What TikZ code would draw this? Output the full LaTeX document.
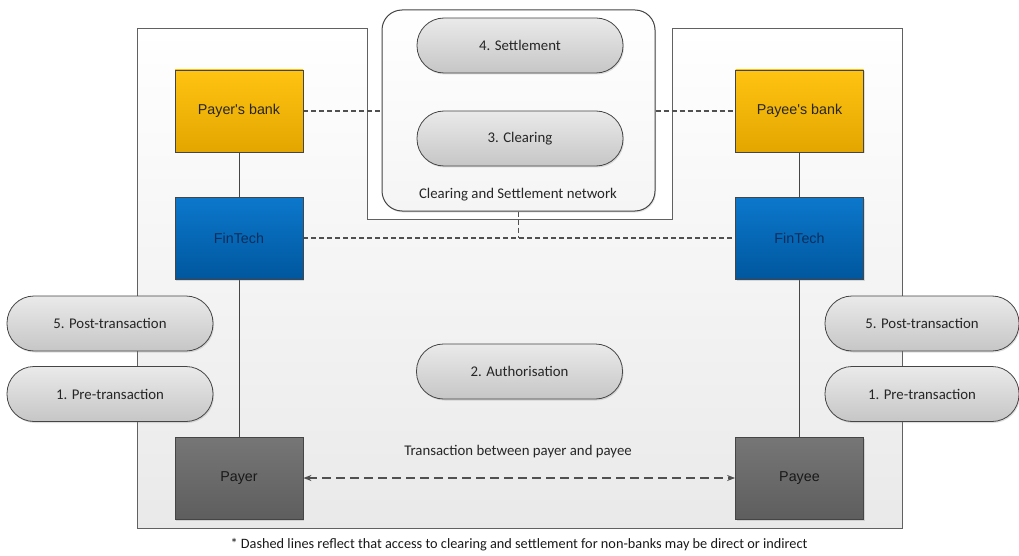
\documentclass[tikz,border=0pt]{standalone}
\usepackage{fontspec}
\setmainfont{Carlito}
\newfontfamily\boxfont{Liberation Sans}
\usetikzlibrary{shadows,arrows.meta,backgrounds}
\definecolor{edgec}{HTML}{454545}
\definecolor{panelfill}{HTML}{F5F5F5}
\definecolor{ybtop}{HTML}{FFC312}
\definecolor{ybbot}{HTML}{E3A600}
\definecolor{bltop}{HTML}{0C78CC}
\definecolor{blbot}{HTML}{00579E}
\definecolor{bltext}{HTML}{0A2E5C}
\definecolor{grtop}{HTML}{767676}
\definecolor{grbot}{HTML}{5E5E5E}
\definecolor{pilltop}{HTML}{EAEAEA}
\definecolor{pillbot}{HTML}{C6C6C6}
\definecolor{dashc}{HTML}{505050}
\begin{document}
\begin{tikzpicture}[x=1pt,y=-1pt,
  pill/.style={rectangle, rounded corners=27pt, draw=edgec, line width=0.8pt,
    top color=pilltop, bottom color=pillbot, minimum height=55pt, minimum width=206pt,
    font=\fontsize{14.8}{17}\selectfont, text=black!85,
    drop shadow={opacity=0.25, shadow xshift=1pt, shadow yshift=-1.5pt}},
  actor/.style={rectangle, draw=edgec, line width=0.8pt, minimum width=128pt, minimum height=82pt,
    font=\boxfont\fontsize{14.3}{16}\selectfont,
    drop shadow={opacity=0.25, shadow xshift=1pt, shadow yshift=-1.5pt}},
  bankbox/.style={actor, top color=ybtop, bottom color=ybbot, text=black!85},
  fintechbox/.style={actor, top color=bltop, bottom color=blbot, text=bltext},
  userbox/.style={actor, top color=grtop, bottom color=grbot, text=black!90},
  solidlink/.style={draw=edgec, line width=0.9pt},
  dashlink/.style={draw=dashc, line width=1.4pt, dash pattern=on 5pt off 3pt},
  txlink/.style={draw=dashc, line width=1.4pt, dash pattern=on 9pt off 5pt, {Stealth[length=8pt,width=6pt]}-{Stealth[length=8pt,width=6pt]}},
]
\useasboundingbox (0,0) rectangle (1019,556);

% network box
\node[rectangle, rounded corners=20pt, draw=edgec, line width=1pt, top color=white, bottom color=panelfill,
      minimum width=273pt, minimum height=201pt,
      drop shadow={opacity=0.2, shadow xshift=1pt, shadow yshift=-1.5pt}] (net) at (518.5,110.5) {};
\node[font=\fontsize{14.8}{17}\selectfont, text=black!85] (netlabel) at (518,195) {Clearing and Settlement network};
\node[pill] (settle) at (520,45.5) {4. Settlement};
\node[pill] (clear) at (520,138.5) {3. Clearing};

% actors
\node[bankbox] (pbank) at (239,111) {Payer's bank};
\node[fintechbox] (lfin) at (239,238) {FinTech};
\node[userbox] (payer) at (239,478) {Payer};
\node[bankbox] (ebank) at (799.5,111) {Payee's bank};
\node[fintechbox] (rfin) at (799.5,238) {FinTech};
\node[userbox] (payee) at (799.5,478) {Payee};

% stage pills
\node[pill] (lpost) at (110,323.5) {5. Post-transaction};
\node[pill] (lpre) at (110,394) {1. Pre-transaction};
\node[pill, minimum width=194pt] (rpost) at (922,323.5) {5. Post-transaction};
\node[pill, minimum width=194pt] (rpre) at (922,394) {1. Pre-transaction};
\node[pill] (auth) at (519.5,371.5) {2. Authorisation};

% texts
\node[font=\fontsize{14.8}{17}\selectfont, text=black!85] (txlabel) at (518,452) {Transaction between payer and payee};
\node[font=\fontsize{14.3}{17}\selectfont, text=black!90] (note) at (519,545) {* Dashed lines reflect that access to clearing and settlement for non-banks may be direct or indirect};

\coordinate (junction) at (net.south |- lfin.east);

\begin{scope}[on background layer]
  \draw[draw=edgec!85, line width=1pt, top color=white, bottom color=panelfill!90!gray]
    (137,29) -- (367,29) -- (367,219) -- (672,219) -- (672,29) -- (902,29) -- (902,528) -- (137,528) -- cycle;
  \draw[solidlink] (settle) -- (clear);
  \draw[solidlink] (pbank) -- (lfin);
  \draw[solidlink] (lfin) -- (payer);
  \draw[solidlink] (ebank) -- (rfin);
  \draw[solidlink] (rfin) -- (payee);
  \draw[dashlink] (pbank.east) -- (pbank.east -| net.west);
  \draw[dashlink] (ebank.west -| net.east) -- (ebank.west);
  \draw[dashlink] (lfin.east) -- (rfin.west);
  \draw[dashlink] (net.south) -- (junction);
\end{scope}
\draw[txlink] (payer.east) -- (payee.west);
\end{tikzpicture}
\end{document}
